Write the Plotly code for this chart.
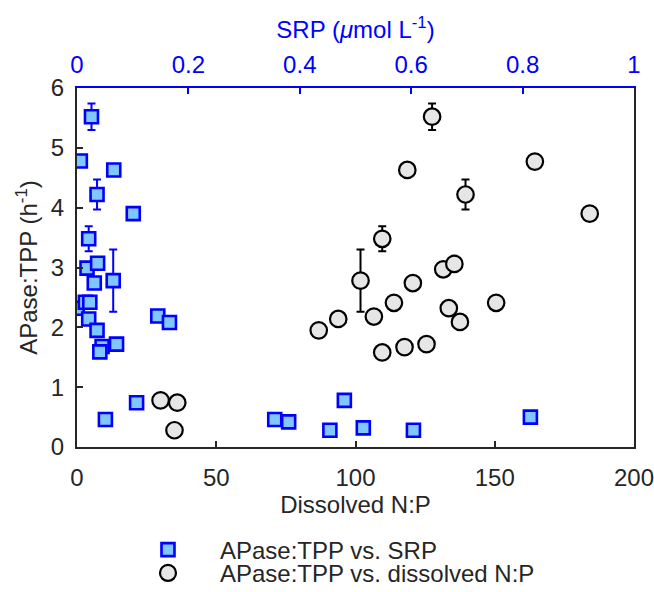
import plotly.graph_objects as go

# ---- data ----
srp = [0.026, 0.006, 0.066, 0.036, 0.101, 0.021, 0.018, 0.037, 0.031, 0.065,
       0.0003, 0.015, 0.023, 0.021, 0.036, 0.045, 0.041, 0.071, 0.145, 0.166,
       0.107, 0.051, 0.355, 0.380, 0.480, 0.454, 0.514, 0.604, 0.814]
apase_srp = [5.52, 4.78, 4.63, 4.22, 3.90, 3.48, 2.99, 3.07, 2.74, 2.78,
             2.32, 2.42, 2.42, 2.14, 1.95, 1.68, 1.59, 1.72, 2.19, 2.08,
             0.74, 0.46, 0.46, 0.42, 0.78, 0.28, 0.32, 0.28, 0.50]
err_srp = [0.22, 0, 0, 0.25, 0, 0.21, 0, 0, 0, 0.52,
           0, 0, 0, 0, 0, 0, 0, 0, 0, 0,
           0, 0, 0, 0, 0, 0, 0, 0, 0]

np_ratio = [127.5, 118.6, 164.4, 139.5, 184.1, 109.6, 131.5, 135.5, 101.8, 120.6,
            113.8, 106.6, 93.8, 86.8, 133.5, 137.5, 150.5, 109.6, 117.6, 125.5,
            30.0, 36.0, 35.0]
apase_np = [5.52, 4.63, 4.77, 4.22, 3.90, 3.48, 2.97, 3.06, 2.78, 2.74,
            2.41, 2.18, 2.14, 1.95, 2.32, 2.09, 2.41, 1.58, 1.67, 1.72,
            0.78, 0.74, 0.28]
err_np = [0.22, 0, 0, 0.25, 0, 0.21, 0, 0, 0.52, 0,
          0, 0, 0, 0, 0, 0, 0, 0, 0, 0,
          0, 0, 0]

np_ticks = [0, 50, 100, 150, 200]
srp_ticks = [0, 0.2, 0.4, 0.6, 0.8, 1]
srp_ticktext = ["0", "0.2", "0.4", "0.6", "0.8", "1"]
y_ticks = [0, 1, 2, 3, 4, 5, 6]

label_sq = "APase:TPP vs. SRP"
label_ci = "APase:TPP vs. dissolved N:P"

FONT = "Liberation Sans, Arial, sans-serif"
DARK = "#262626"
BLUE = "#0000ff"
FS = 24

fig = go.Figure()

# error bars (drawn beneath markers)
i_sq = [i for i, e in enumerate(err_srp) if e > 0]
fig.add_trace(go.Scatter(
    x=[srp[i] for i in i_sq], y=[apase_srp[i] for i in i_sq],
    xaxis="x2", yaxis="y", mode="markers",
    marker=dict(size=1, opacity=0), showlegend=False, hoverinfo="skip",
    error_y=dict(type="data", array=[err_srp[i] for i in i_sq], color=BLUE,
                 thickness=2, width=4)))
i_ci = [i for i, e in enumerate(err_np) if e > 0]
fig.add_trace(go.Scatter(
    x=[np_ratio[i] for i in i_ci], y=[apase_np[i] for i in i_ci],
    xaxis="x", yaxis="y", mode="markers",
    marker=dict(size=1, opacity=0), showlegend=False, hoverinfo="skip",
    error_y=dict(type="data", array=[err_np[i] for i in i_ci], color="black",
                 thickness=2, width=4)))

fig.add_trace(go.Scatter(
    x=srp, y=apase_srp, xaxis="x2", yaxis="y", mode="markers", name=label_sq,
    legend="legend",
    marker=dict(symbol="square", size=13, color="#80c6ff",
                line=dict(color=BLUE, width=2.6))))
fig.add_trace(go.Scatter(
    x=np_ratio, y=apase_np, xaxis="x", yaxis="y", mode="markers", name=label_ci,
    legend="legend2",
    marker=dict(symbol="circle", size=16.5, color="#e6e6e6",
                line=dict(color="black", width=2.2))))

fig.update_layout(
    width=654, height=592,
    margin=dict(l=77, r=20, t=88, b=145, autoexpand=False),
    paper_bgcolor="white", plot_bgcolor="white",
    font=dict(family=FONT, size=FS, color=DARK),
    xaxis=dict(range=[0, 200], tickvals=np_ticks, ticks="inside", ticklen=6,
               tickwidth=1.5, tickcolor=DARK, showline=True, linecolor=DARK,
               linewidth=2, showgrid=False, zeroline=False, automargin=False,
               ticklabelstandoff=8, ticklabeloverflow="allow",
               title=dict(text="Dissolved N:P", standoff=6,
                          font=dict(size=FS, color=DARK)),
               tickfont=dict(size=FS, color=DARK)),
    xaxis2=dict(range=[0, 1], overlaying="x", side="top", tickvals=srp_ticks,
                ticktext=srp_ticktext, ticks="inside", ticklen=6, tickwidth=1.5,
                tickcolor=BLUE, showline=True, linecolor=BLUE, linewidth=2,
                showgrid=False, zeroline=False, automargin=False,
                ticklabelstandoff=3, ticklabeloverflow="allow",
                title=dict(text="SRP (<i>μ</i>mol L<sup>-1</sup>)", standoff=6,
                           font=dict(size=FS, color=BLUE)),
                tickfont=dict(size=FS, color=BLUE)),
    yaxis=dict(range=[0, 6], tickvals=y_ticks, ticks="inside", ticklen=6,
               tickwidth=1.5, tickcolor=DARK, showline=True, linecolor=DARK,
               linewidth=2, mirror=True, showgrid=False, zeroline=False,
               automargin=False, ticklabelstandoff=6, ticklabeloverflow="allow",
               title=dict(text="APase:TPP (h<sup>-1</sup>)", standoff=6,
                          font=dict(size=FS, color=DARK)),
               tickfont=dict(size=FS, color=DARK)),
    legend=dict(x=0.07, y=-0.287, xanchor="left", yanchor="middle",
                itemwidth=94, font=dict(size=FS, color=DARK),
                bgcolor="rgba(0,0,0,0)", borderwidth=0),
    legend2=dict(x=0.07, y=-0.352, xanchor="left", yanchor="middle",
                 itemwidth=94, font=dict(size=FS, color=DARK),
                 bgcolor="rgba(0,0,0,0)", borderwidth=0),
)

fig.write_html("out.html", config={"displayModeBar": False})

# remove the browser's default page margin so the figure sits at (0, 0)
with open("out.html", "r", encoding="utf-8") as f:
    html = f.read()
html = html.replace("<head>", "<head><style>html,body{margin:0;padding:0;overflow:hidden;}</style>", 1)
with open("out.html", "w", encoding="utf-8") as f:
    f.write(html)
